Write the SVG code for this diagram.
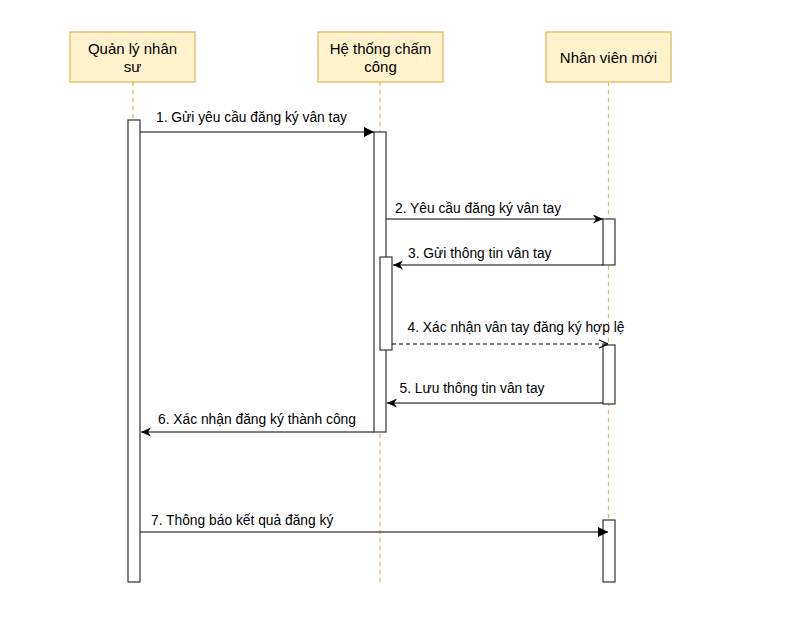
<svg xmlns="http://www.w3.org/2000/svg" width="795" height="642" viewBox="0 0 795 642">
<style>
.hdr{fill:#fff2cc;stroke:#d6b656;stroke-width:1.2}
.ht{font-family:"Liberation Sans",Arial,sans-serif;font-size:15px;fill:#000;text-anchor:middle}
.life{stroke:#d6b656;stroke-width:1.2;stroke-dasharray:4 4;fill:none}
.act{fill:#fff;stroke:#333;stroke-width:1.2}
.msg{stroke:#000;stroke-width:1.2;fill:none}
.dash{stroke-dasharray:4 3}
.mt{font-family:"Liberation Sans",Arial,sans-serif;font-size:13.8px;fill:#000}
</style>
<defs>
<marker id="blk" viewBox="0 0 10 10" refX="10" refY="5" markerWidth="10" markerHeight="10" markerUnits="userSpaceOnUse" orient="auto">
<path d="M0,0 L10,5 L0,10 Z" fill="#000"/>
</marker>
<marker id="cls" viewBox="0 0 10 10" refX="10" refY="5" markerWidth="10" markerHeight="10" markerUnits="userSpaceOnUse" orient="auto">
<path d="M0,0.5 L10,5 L0,9.5 L3,5 Z" fill="#000"/>
</marker>
<marker id="opn" viewBox="0 0 10 10" refX="10" refY="5" markerWidth="10" markerHeight="10" markerUnits="userSpaceOnUse" orient="auto">
<path d="M1,1 L10,5 L1,9" fill="none" stroke="#000" stroke-width="1.2"/>
</marker>
</defs>
<g id="lifelines">
<line class="life" x1="133" y1="82" x2="133" y2="582"/>
<line class="life" x1="380" y1="82" x2="380" y2="582"/>
<line class="life" x1="608.5" y1="82" x2="608.5" y2="582"/>
</g>
<g id="quan-ly-nhan-su">
<rect class="hdr" x="70" y="32" width="125" height="50"/>
<text class="ht" x="132.5" y="54">Quản lý nhân</text>
<text class="ht" x="132.5" y="72">sư</text>
<rect class="act" x="128" y="120" width="12" height="462"/>
</g>
<g id="he-thong-cham-cong">
<rect class="hdr" x="318" y="32" width="125" height="50"/>
<text class="ht" x="380.5" y="54">Hệ thống chấm</text>
<text class="ht" x="380.5" y="72">công</text>
<rect class="act" x="374" y="132" width="12" height="300"/>
<rect class="act" x="380" y="257" width="12" height="93"/>
</g>
<g id="nhan-vien-moi">
<rect class="hdr" x="546" y="32" width="125" height="50"/>
<text class="ht" x="608.5" y="63">Nhân viên mới</text>
<rect class="act" x="603" y="219" width="12" height="46"/>
<rect class="act" x="603" y="345" width="12" height="59"/>
<rect class="act" x="603" y="520" width="12" height="62"/>
</g>
<g id="connectors">
<line class="msg" x1="140" y1="132" x2="374" y2="132" marker-end="url(#blk)"/>
<text class="mt" x="156" y="122">1. Gửi yêu cầu đăng ký vân tay</text>
<line class="msg" x1="386" y1="219" x2="603" y2="219" marker-end="url(#cls)"/>
<text class="mt" x="395" y="213">2. Yêu cầu đăng ký vân tay</text>
<line class="msg" x1="603" y1="265" x2="393" y2="265" marker-end="url(#cls)"/>
<text class="mt" x="408" y="258">3. Gửi thông tin vân tay</text>
<line class="msg dash" x1="392" y1="344" x2="608" y2="344" marker-end="url(#opn)"/>
<text class="mt" x="407.5" y="332">4. Xác nhận vân tay đăng ký hợp lệ</text>
<line class="msg" x1="603" y1="403" x2="387" y2="403" marker-end="url(#cls)"/>
<text class="mt" x="399.5" y="393">5. Lưu thông tin vân tay</text>
<line class="msg" x1="374" y1="432" x2="141" y2="432" marker-end="url(#cls)"/>
<text class="mt" x="158" y="424">6. Xác nhận đăng ký thành công</text>
<line class="msg" x1="140" y1="532" x2="608" y2="532" marker-end="url(#blk)"/>
<text class="mt" x="151" y="525">7. Thông báo kết quả đăng ký</text>
</g>
</svg>
